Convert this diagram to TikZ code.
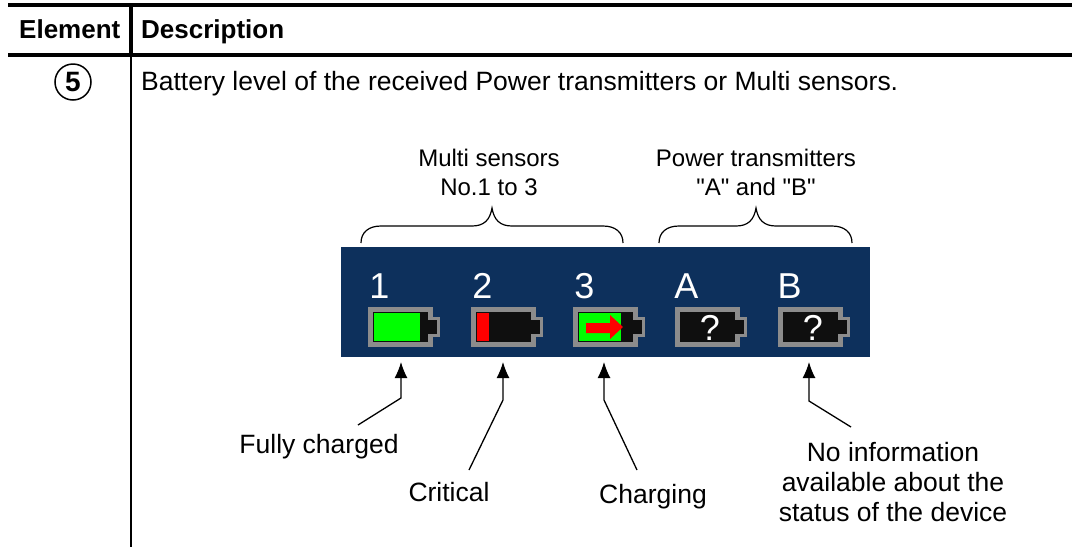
\documentclass[tikz,border=0pt]{standalone}
\usepackage{fontspec}
\setmainfont{Liberation Sans}
\newfontfamily\plainquotes{Liberation Sans}
\usetikzlibrary{arrows.meta}
\tikzset{
  rule/.style={line width=4pt,color=black},
  txt/.style={inner sep=0pt,align=center,font=\fontsize{26.5}{30}\selectfont},
  small/.style={inner sep=0pt,align=center,font=\fontsize{24}{29}\selectfont},
  pointer/.style={line width=1.3pt,-{Latex[length=16pt,width=13pt]}},
  curly/.style={line width=1.2pt},
  headcell/.style={inner sep=0pt,anchor=base west,font=\fontsize{26}{30}\selectfont\bfseries}
}
\begin{document}
\begin{tikzpicture}[x=1pt,y=-1pt]
  % colors
  \definecolor{kNavy}{rgb}{0.05,0.19,0.36}
  \definecolor{kCase}{rgb}{0.55,0.55,0.55}
  \definecolor{kCell}{rgb}{0.06,0.06,0.06}
  \definecolor{kLime}{rgb}{0.0,1.0,0.0}
  \useasboundingbox (0,0) rectangle (1072,547);
  % table
  \draw[rule] (8,5) -- (1072,5);
  \draw[rule] (8,55) -- (1072,55);
  \draw[line width=3.5pt] (131,5) -- (131,55);
  \draw[line width=2.5pt] (131,55) -- (131,547);
  \node[headcell] (element) at (19,38) {Element};
  \node[headcell] (description) at (141,38) {Description};
  \node[draw,circle,line width=1.5pt,minimum size=36pt,inner sep=0pt,font=\fontsize{28}{30}\selectfont\bfseries] (five) at (73,82) {5};
  \node[txt,anchor=base west] (intro) at (141,90) {Battery level of the received Power transmitters or Multi sensors.};
  % panel
  \fill[color=kNavy] (341,247) rectangle (870,357);
  \foreach \n/\x/\s in {1/368/1, 2/471/2, 3/573/3, 4/675/A, 5/778/B} {
    \fill[color=kCase] (\x,307) rectangle (\x+65,347);
    \fill[color=kCase] (\x+65,317) rectangle (\x+72,337);
    \fill[color=kCell] (\x+5,312) rectangle (\x+60,342);
    \fill[color=kCell] (\x+60,320) rectangle (\x+69,334);
    \node[inner sep=0pt,text=white,font=\fontsize{36}{36}\selectfont] (num\n) at (\x+11.5,286) {\s};
  }
  % levels
  \fill[color=kLime] (374,313) rectangle (420,341);
  \fill[color=red] (477,313) rectangle (489,341);
  \fill[color=kLime] (579,313) rectangle (621,341);
  \fill[color=red] (586,323) -- (610,323) -- (610,315) -- (623,327) -- (610,339) -- (610,333) -- (586,333) -- cycle;
  \foreach \x in {710,813}
    \node[inner sep=0pt,text=white,font=\fontsize{36}{36}\selectfont] at (\x,328) {?};
  % braces
  \foreach \a/\t/\b in {361/492/623, 659/756/852}
    \draw[curly] (\a,243) .. controls (\a,232) and (\a+8,226) .. (\a+20,226) -- (\t-20,226)
      .. controls (\t-8,226) and (\t-2,220) .. (\t,208)
      .. controls (\t+2,220) and (\t+8,226) .. (\t+20,226) -- (\b-20,226)
      .. controls (\b-8,226) and (\b,232) .. (\b,243);
  \node[small] (multi) at (489,172) {Multi sensors\\No.1 to 3};
  \node[small,font=\fontsize{24}{29}\selectfont\plainquotes] (power) at (756,172) {Power transmitters\\"A" and "B"};
  % labels
  \node[txt,anchor=base] (full) at (319,453) {Fully charged};
  \node[txt,anchor=base] (crit) at (449,501) {Critical};
  \node[txt,anchor=base] (chrg) at (653,503) {Charging};
  \node[txt] (noinf) at (893,482) {No information\\available about the\\status of the device};
  \coordinate (t1) at (401,362);
  \coordinate (t2) at (503,362);
  \coordinate (t3) at (604,362);
  \coordinate (t4) at (809,362);
  \draw[pointer] (358,425) -- (401,398) -- (t1);
  \draw[pointer] (469,470) -- (503,400) -- (t2);
  \draw[pointer] (637,470) -- (604,400) -- (t3);
  \draw[pointer] (851,427) -- (809,401) -- (t4);
\end{tikzpicture}
\end{document}
